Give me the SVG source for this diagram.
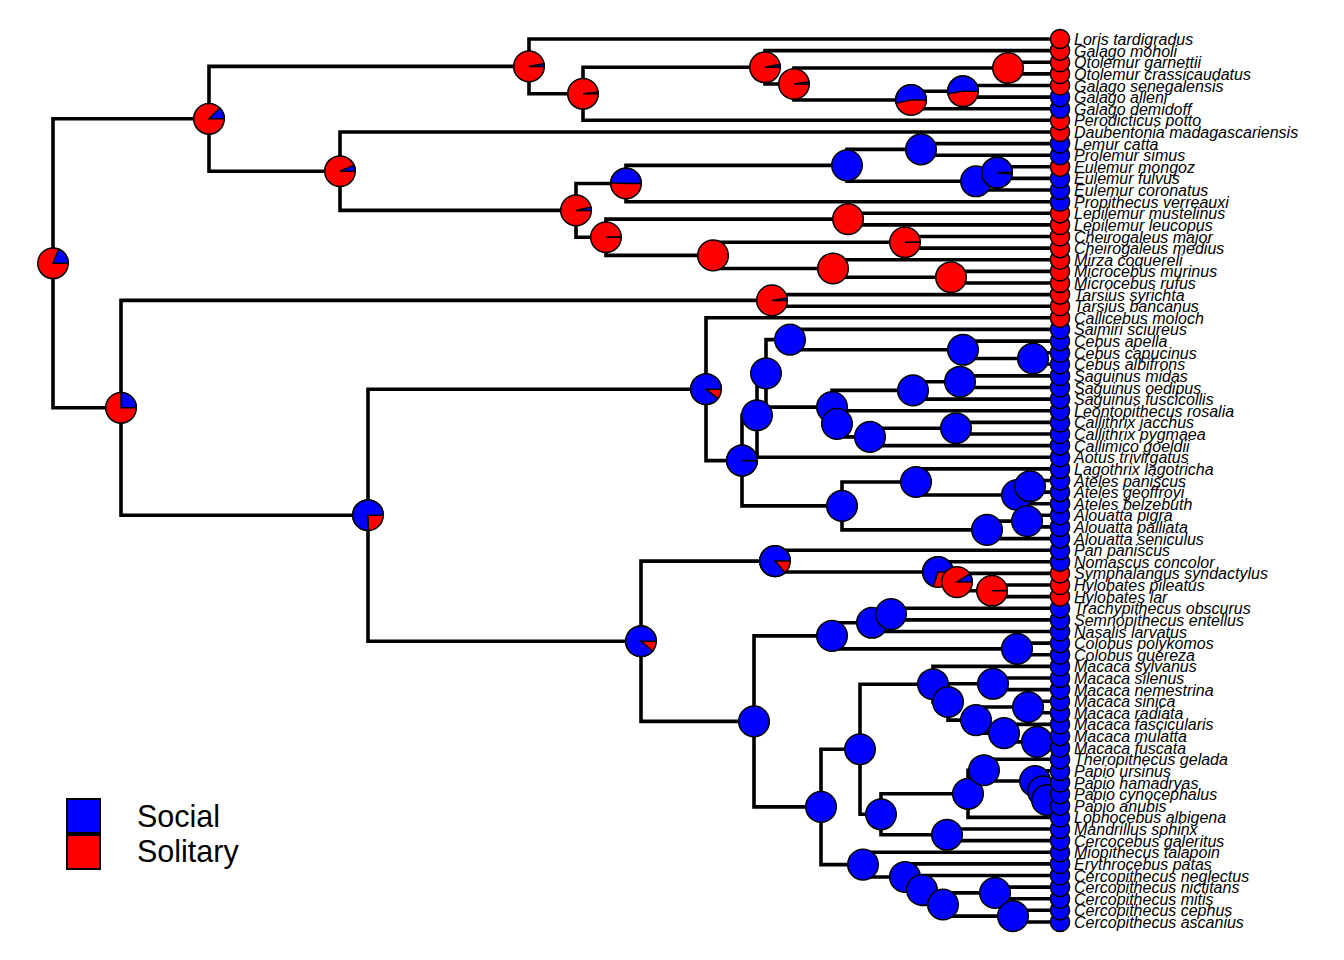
<svg xmlns="http://www.w3.org/2000/svg" width="1344" height="960" viewBox="0 0 1344 960">
<style>
.e{fill:none;stroke:#000;stroke-width:3.6;stroke-linejoin:miter;stroke-linecap:square}
.B{fill:#0000ff;stroke:#000;stroke-width:1.5}
.R{fill:#ff0000;stroke:#000;stroke-width:1.5}
.t{font-family:"Liberation Sans",Arial,sans-serif;font-size:16px;font-style:italic;fill:#000}
.lg{font-family:"Liberation Sans",Arial,sans-serif;font-size:30.5px;fill:#000}
</style>
<rect width="1344" height="960" fill="#fff"/>
<g id="connectors">
<path class="e" d="M209 118.8 H53 V407.8 H121"/>
<path class="e" d="M529 66.4 H209 V171.2 H340"/>
<path class="e" d="M1060 39 H529 V93.8 H583"/>
<path class="e" d="M765 67.3 H583 V120.3 H1060"/>
<path class="e" d="M1060 50.6 H765 V84 H794"/>
<path class="e" d="M1008 68.05 H794 V100 H911"/>
<path class="e" d="M1060 62.2 H1008 V73.9 H1060"/>
<path class="e" d="M963 91.3 H911 V108.7 H1060"/>
<path class="e" d="M1060 85.5 H963 V97.1 H1060"/>
<path class="e" d="M1060 132 H340 V210.4 H576"/>
<path class="e" d="M626 183.5 H576 V237.25 H606"/>
<path class="e" d="M847 165.35 H626 V201.7 H1060"/>
<path class="e" d="M921 149.4 H847 V181.3 H976"/>
<path class="e" d="M1060 143.6 H921 V155.2 H1060"/>
<path class="e" d="M997 172.6 H976 V190 H1060"/>
<path class="e" d="M1060 166.8 H997 V178.4 H1060"/>
<path class="e" d="M848 219.1 H606 V255.4 H713"/>
<path class="e" d="M1060 213.3 H848 V224.9 H1060"/>
<path class="e" d="M905 242.3 H713 V268.45 H833"/>
<path class="e" d="M1060 236.5 H905 V248.1 H1060"/>
<path class="e" d="M1060 259.7 H833 V277.2 H951"/>
<path class="e" d="M1060 271.4 H951 V283 H1060"/>
<path class="e" d="M772 300.4 H121 V515.2 H368"/>
<path class="e" d="M1060 294.6 H772 V306.2 H1060"/>
<path class="e" d="M706 389.2 H368 V641.25 H641"/>
<path class="e" d="M1060 317.8 H706 V460.6 H742"/>
<path class="e" d="M757 415.3 H742 V505.9 H842"/>
<path class="e" d="M766 373.35 H757 V457.2 H1060"/>
<path class="e" d="M790 339.6 H766 V407.1 H832"/>
<path class="e" d="M1060 329.4 H790 V349.8 H963"/>
<path class="e" d="M1060 341.1 H963 V358.5 H1033"/>
<path class="e" d="M1060 352.7 H1033 V364.3 H1060"/>
<path class="e" d="M913 390.4 H832 V423.85 H837"/>
<path class="e" d="M960 381.7 H913 V399.1 H1060"/>
<path class="e" d="M1060 375.9 H960 V387.5 H1060"/>
<path class="e" d="M1060 410.8 H837 V436.9 H870"/>
<path class="e" d="M956 428.2 H870 V445.6 H1060"/>
<path class="e" d="M1060 422.4 H956 V434 H1060"/>
<path class="e" d="M916 481.95 H842 V529.85 H987"/>
<path class="e" d="M1060 468.9 H916 V495 H1017"/>
<path class="e" d="M1030 486.3 H1017 V503.7 H1060"/>
<path class="e" d="M1060 480.5 H1030 V492.1 H1060"/>
<path class="e" d="M1027 521.1 H987 V538.6 H1060"/>
<path class="e" d="M1060 515.3 H1027 V526.9 H1060"/>
<path class="e" d="M775 561.1 H641 V721.4 H754"/>
<path class="e" d="M1060 550.2 H775 V571.95 H938"/>
<path class="e" d="M1060 561.8 H938 V582.1 H957"/>
<path class="e" d="M1060 573.4 H957 V590.8 H992"/>
<path class="e" d="M1060 585 H992 V596.6 H1060"/>
<path class="e" d="M832 635.85 H754 V806.9 H821"/>
<path class="e" d="M872 622.8 H832 V648.9 H1017"/>
<path class="e" d="M891 614.1 H872 V631.5 H1060"/>
<path class="e" d="M1060 608.3 H891 V619.9 H1060"/>
<path class="e" d="M1060 643.1 H1017 V654.7 H1060"/>
<path class="e" d="M860 749.25 H821 V864.6 H863"/>
<path class="e" d="M933 684.2 H860 V814.3 H881"/>
<path class="e" d="M1060 666.4 H933 V701.95 H948"/>
<path class="e" d="M993 683.8 H948 V720.1 H976"/>
<path class="e" d="M1060 678 H993 V689.6 H1060"/>
<path class="e" d="M1028 707 H976 V733.15 H1004"/>
<path class="e" d="M1060 701.2 H1028 V712.8 H1060"/>
<path class="e" d="M1060 724.4 H1004 V741.9 H1037"/>
<path class="e" d="M1060 736.1 H1037 V747.7 H1060"/>
<path class="e" d="M968 793.8 H881 V834.8 H947"/>
<path class="e" d="M984 770.2 H968 V817.4 H1060"/>
<path class="e" d="M1060 759.3 H984 V781.05 H1035"/>
<path class="e" d="M1060 770.9 H1035 V791.2 H1043"/>
<path class="e" d="M1060 782.5 H1043 V799.95 H1047"/>
<path class="e" d="M1060 794.1 H1047 V805.8 H1060"/>
<path class="e" d="M1060 829 H947 V840.6 H1060"/>
<path class="e" d="M1060 852.2 H863 V876.95 H905"/>
<path class="e" d="M1060 863.9 H905 V890 H922"/>
<path class="e" d="M1060 875.5 H922 V904.5 H943"/>
<path class="e" d="M995 892.9 H943 V916.15 H1013"/>
<path class="e" d="M1060 887.1 H995 V898.7 H1060"/>
<path class="e" d="M1060 910.3 H1013 V922 H1060"/>
</g>
<g id="nodes">
<g id="n-root"><circle class="R" cx="53" cy="263.3" r="15.3"/><path class="B" d="M53 263.3 L68.3 263.3 A15.3 15.3 0 0 0 58.63 249.07 Z"/></g>
<g id="n-primates-strep"><circle class="R" cx="209" cy="118.8" r="15.3"/><path class="B" d="M209 118.8 L224.3 118.8 A15.3 15.3 0 0 0 219.82 107.98 Z"/></g>
<g id="n-lorisoids"><circle class="R" cx="529" cy="66.4" r="15.3"/><path class="B" d="M529 66.4 L544.3 66.4 A15.3 15.3 0 0 0 544.03 63.53 Z"/></g>
<g id="n-583"><circle class="R" cx="583" cy="93.8" r="15.3"/><path class="B" d="M583 93.8 L598.3 93.8 A15.3 15.3 0 0 0 598.21 92.17 Z"/></g>
<g id="n-765"><circle class="R" cx="765" cy="67.3" r="15.3"/><path class="B" d="M765 67.3 L780.3 67.3 A15.3 15.3 0 0 0 780.03 64.43 Z"/></g>
<g id="n-794"><circle class="R" cx="794" cy="84" r="15.3"/><path class="B" d="M794 84 L809.3 84 A15.3 15.3 0 0 0 809.15 81.87 Z"/></g>
<g id="n-otolemur"><circle class="R" cx="1008" cy="68.05" r="15.3"/></g>
<g id="n-911"><circle class="R" cx="911" cy="100" r="15.3"/><path class="B" d="M911 100 L926.3 100 A15.3 15.3 0 1 0 896.05 103.23 Z"/></g>
<g id="n-963a"><circle class="R" cx="963" cy="91.3" r="15.3"/><path class="B" d="M963 91.3 L978.3 91.3 A15.3 15.3 0 1 0 947.9 93.8 Z"/></g>
<g id="n-lemuriformes"><circle class="R" cx="340" cy="171.2" r="15.3"/><path class="B" d="M340 171.2 L355.3 171.2 A15.3 15.3 0 0 0 354.04 165.12 Z"/></g>
<g id="n-576"><circle class="R" cx="576" cy="210.4" r="15.3"/><path class="B" d="M576 210.4 L591.3 210.4 A15.3 15.3 0 0 0 590.93 207.06 Z"/></g>
<g id="n-626"><circle class="R" cx="626" cy="183.5" r="15.3"/><path class="B" d="M626 183.5 L641.3 183.5 A15.3 15.3 0 0 0 610.72 182.73 Z"/></g>
<g id="n-847"><circle class="B" cx="847" cy="165.35" r="15.3"/></g>
<g id="n-921"><circle class="B" cx="921" cy="149.4" r="15.3"/></g>
<g id="n-976a"><circle class="B" cx="976" cy="181.3" r="15.3"/></g>
<g id="n-997"><circle class="R" cx="997" cy="172.6" r="15.3"/><path class="B" d="M997 172.6 L1012.3 172.6 A15.3 15.3 0 1 0 1012.23 174.04 Z"/></g>
<g id="n-606"><circle class="R" cx="606" cy="237.25" r="15.3"/><path class="B" d="M606 237.25 L621.3 237.25 A15.3 15.3 0 0 0 621.3 236.87 Z"/></g>
<g id="n-848"><circle class="R" cx="848" cy="219.1" r="15.3"/></g>
<g id="n-713"><circle class="R" cx="713" cy="255.4" r="15.3"/></g>
<g id="n-905a"><circle class="R" cx="905" cy="242.3" r="15.3"/><path class="B" d="M905 242.3 L920.3 242.3 A15.3 15.3 0 0 0 920.3 241.92 Z"/></g>
<g id="n-833"><circle class="R" cx="833" cy="268.45" r="15.3"/></g>
<g id="n-951"><circle class="R" cx="951" cy="277.2" r="15.3"/></g>
<g id="n-haplorhini"><circle class="R" cx="121" cy="407.8" r="15.3"/><path class="B" d="M121 407.8 L136.3 407.8 A15.3 15.3 0 0 0 121 392.5 Z"/></g>
<g id="n-tarsius"><circle class="R" cx="772" cy="300.4" r="15.3"/><path class="B" d="M772 300.4 L787.3 300.4 A15.3 15.3 0 0 0 787.11 298.01 Z"/></g>
<g id="n-anthropoidea"><circle class="R" cx="368" cy="515.2" r="15.3"/><path class="B" d="M368 515.2 L383.3 515.2 A15.3 15.3 0 1 0 368.48 530.49 Z"/></g>
<g id="n-platyrrhini"><circle class="R" cx="706" cy="389.2" r="15.3"/><path class="B" d="M706 389.2 L721.3 389.2 A15.3 15.3 0 1 0 718.09 398.58 Z"/></g>
<g id="n-742"><circle class="R" cx="742" cy="460.6" r="15.3"/><path class="B" d="M742 460.6 L757.3 460.6 A15.3 15.3 0 1 0 757.29 461.08 Z"/></g>
<g id="n-757"><circle class="B" cx="757" cy="415.3" r="15.3"/></g>
<g id="n-766"><circle class="B" cx="766" cy="373.35" r="15.3"/></g>
<g id="n-790"><circle class="B" cx="790" cy="339.6" r="15.3"/></g>
<g id="n-963b"><circle class="B" cx="963" cy="349.8" r="15.3"/></g>
<g id="n-1033"><circle class="B" cx="1033" cy="358.5" r="15.3"/></g>
<g id="n-832a"><circle class="B" cx="832" cy="407.1" r="15.3"/></g>
<g id="n-913"><circle class="B" cx="913" cy="390.4" r="15.3"/></g>
<g id="n-960"><circle class="B" cx="960" cy="381.7" r="15.3"/></g>
<g id="n-837"><circle class="B" cx="837" cy="423.85" r="15.3"/></g>
<g id="n-870"><circle class="B" cx="870" cy="436.9" r="15.3"/></g>
<g id="n-956"><circle class="B" cx="956" cy="428.2" r="15.3"/></g>
<g id="n-842"><circle class="B" cx="842" cy="505.9" r="15.3"/></g>
<g id="n-916"><circle class="B" cx="916" cy="481.95" r="15.3"/></g>
<g id="n-1017a"><circle class="B" cx="1017" cy="495" r="15.3"/></g>
<g id="n-1030"><circle class="B" cx="1030" cy="486.3" r="15.3"/></g>
<g id="n-987"><circle class="B" cx="987" cy="529.85" r="15.3"/></g>
<g id="n-1027"><circle class="B" cx="1027" cy="521.1" r="15.3"/></g>
<g id="n-catarrhini"><circle class="R" cx="641" cy="641.25" r="15.3"/><path class="B" d="M641 641.25 L656.3 641.25 A15.3 15.3 0 1 0 652.79 651 Z"/></g>
<g id="n-hominoidea"><circle class="R" cx="775" cy="561.1" r="15.3"/><path class="B" d="M775 561.1 L790.3 561.1 A15.3 15.3 0 1 0 785.12 572.58 Z"/></g>
<g id="n-938"><circle class="R" cx="938" cy="571.95" r="15.3"/><path class="B" d="M938 571.95 L953.3 571.95 A15.3 15.3 0 1 0 933.27 586.5 Z"/></g>
<g id="n-957"><circle class="R" cx="957" cy="582.1" r="15.3"/><path class="B" d="M957 582.1 L972.3 582.1 A15.3 15.3 0 0 0 969.92 573.9 Z"/></g>
<g id="n-992"><circle class="R" cx="992" cy="590.8" r="15.3"/><path class="B" d="M992 590.8 L1007.3 590.8 A15.3 15.3 0 0 0 1007.3 590.42 Z"/></g>
<g id="n-cercopithecoidea"><circle class="B" cx="754" cy="721.4" r="15.3"/></g>
<g id="n-colobinae"><circle class="B" cx="832" cy="635.85" r="15.3"/></g>
<g id="n-872"><circle class="B" cx="872" cy="622.8" r="15.3"/></g>
<g id="n-891"><circle class="B" cx="891" cy="614.1" r="15.3"/></g>
<g id="n-1017b"><circle class="B" cx="1017" cy="648.9" r="15.3"/></g>
<g id="n-cercopithecinae"><circle class="B" cx="821" cy="806.9" r="15.3"/></g>
<g id="n-papionini"><circle class="B" cx="860" cy="749.25" r="15.3"/></g>
<g id="n-macaca"><circle class="B" cx="933" cy="684.2" r="15.3"/></g>
<g id="n-948"><circle class="B" cx="948" cy="701.95" r="15.3"/></g>
<g id="n-993"><circle class="B" cx="993" cy="683.8" r="15.3"/></g>
<g id="n-976b"><circle class="B" cx="976" cy="720.1" r="15.3"/></g>
<g id="n-1028"><circle class="B" cx="1028" cy="707" r="15.3"/></g>
<g id="n-1004"><circle class="B" cx="1004" cy="733.15" r="15.3"/></g>
<g id="n-1037"><circle class="B" cx="1037" cy="741.9" r="15.3"/></g>
<g id="n-881"><circle class="B" cx="881" cy="814.3" r="15.3"/></g>
<g id="n-968"><circle class="B" cx="968" cy="793.8" r="15.3"/></g>
<g id="n-984"><circle class="B" cx="984" cy="770.2" r="15.3"/></g>
<g id="n-1035"><circle class="B" cx="1035" cy="781.05" r="15.3"/></g>
<g id="n-1043"><circle class="B" cx="1043" cy="791.2" r="15.3"/></g>
<g id="n-1047"><circle class="B" cx="1047" cy="799.95" r="15.3"/></g>
<g id="n-947"><circle class="B" cx="947" cy="834.8" r="15.3"/></g>
<g id="n-cercopithecini"><circle class="B" cx="863" cy="864.6" r="15.3"/></g>
<g id="n-905b"><circle class="B" cx="905" cy="876.95" r="15.3"/></g>
<g id="n-922"><circle class="B" cx="922" cy="890" r="15.3"/></g>
<g id="n-943"><circle class="B" cx="943" cy="904.5" r="15.3"/></g>
<g id="n-995"><circle class="B" cx="995" cy="892.9" r="15.3"/></g>
<g id="n-1013"><circle class="B" cx="1013" cy="916.15" r="15.3"/></g>
</g>
<g id="tips">
<g id="tip77"><circle class="B" cx="1060" cy="922" r="9.6"/><text class="t" x="1074" y="928">Cercopithecus ascanius</text></g>
<g id="tip76"><circle class="B" cx="1060" cy="910.3" r="9.6"/><text class="t" x="1074" y="916.3">Cercopithecus cephus</text></g>
<g id="tip75"><circle class="B" cx="1060" cy="898.7" r="9.6"/><text class="t" x="1074" y="904.7">Cercopithecus mitis</text></g>
<g id="tip74"><circle class="B" cx="1060" cy="887.1" r="9.6"/><text class="t" x="1074" y="893.1">Cercopithecus nictitans</text></g>
<g id="tip73"><circle class="B" cx="1060" cy="875.5" r="9.6"/><text class="t" x="1074" y="881.5">Cercopithecus neglectus</text></g>
<g id="tip72"><circle class="B" cx="1060" cy="863.9" r="9.6"/><text class="t" x="1074" y="869.9">Erythrocebus patas</text></g>
<g id="tip71"><circle class="B" cx="1060" cy="852.2" r="9.6"/><text class="t" x="1074" y="858.2">Miopithecus talapoin</text></g>
<g id="tip70"><circle class="B" cx="1060" cy="840.6" r="9.6"/><text class="t" x="1074" y="846.6">Cercocebus galeritus</text></g>
<g id="tip69"><circle class="B" cx="1060" cy="829" r="9.6"/><text class="t" x="1074" y="835">Mandrillus sphinx</text></g>
<g id="tip68"><circle class="B" cx="1060" cy="817.4" r="9.6"/><text class="t" x="1074" y="823.4">Lophocebus albigena</text></g>
<g id="tip67"><circle class="B" cx="1060" cy="805.8" r="9.6"/><text class="t" x="1074" y="811.8">Papio anubis</text></g>
<g id="tip66"><circle class="B" cx="1060" cy="794.1" r="9.6"/><text class="t" x="1074" y="800.1">Papio cynocephalus</text></g>
<g id="tip65"><circle class="B" cx="1060" cy="782.5" r="9.6"/><text class="t" x="1074" y="788.5">Papio hamadryas</text></g>
<g id="tip64"><circle class="B" cx="1060" cy="770.9" r="9.6"/><text class="t" x="1074" y="776.9">Papio ursinus</text></g>
<g id="tip63"><circle class="B" cx="1060" cy="759.3" r="9.6"/><text class="t" x="1074" y="765.3">Theropithecus gelada</text></g>
<g id="tip62"><circle class="B" cx="1060" cy="747.7" r="9.6"/><text class="t" x="1074" y="753.7">Macaca fuscata</text></g>
<g id="tip61"><circle class="B" cx="1060" cy="736.1" r="9.6"/><text class="t" x="1074" y="742.1">Macaca mulatta</text></g>
<g id="tip60"><circle class="B" cx="1060" cy="724.4" r="9.6"/><text class="t" x="1074" y="730.4">Macaca fascicularis</text></g>
<g id="tip59"><circle class="B" cx="1060" cy="712.8" r="9.6"/><text class="t" x="1074" y="718.8">Macaca radiata</text></g>
<g id="tip58"><circle class="B" cx="1060" cy="701.2" r="9.6"/><text class="t" x="1074" y="707.2">Macaca sinica</text></g>
<g id="tip57"><circle class="B" cx="1060" cy="689.6" r="9.6"/><text class="t" x="1074" y="695.6">Macaca nemestrina</text></g>
<g id="tip56"><circle class="B" cx="1060" cy="678" r="9.6"/><text class="t" x="1074" y="684">Macaca silenus</text></g>
<g id="tip55"><circle class="B" cx="1060" cy="666.4" r="9.6"/><text class="t" x="1074" y="672.4">Macaca sylvanus</text></g>
<g id="tip54"><circle class="B" cx="1060" cy="654.7" r="9.6"/><text class="t" x="1074" y="660.7">Colobus guereza</text></g>
<g id="tip53"><circle class="B" cx="1060" cy="643.1" r="9.6"/><text class="t" x="1074" y="649.1">Colobus polykomos</text></g>
<g id="tip52"><circle class="B" cx="1060" cy="631.5" r="9.6"/><text class="t" x="1074" y="637.5">Nasalis larvatus</text></g>
<g id="tip51"><circle class="B" cx="1060" cy="619.9" r="9.6"/><text class="t" x="1074" y="625.9">Semnopithecus entellus</text></g>
<g id="tip50"><circle class="B" cx="1060" cy="608.3" r="9.6"/><text class="t" x="1074" y="614.3">Trachypithecus obscurus</text></g>
<g id="tip49"><circle class="R" cx="1060" cy="596.6" r="9.6"/><text class="t" x="1074" y="602.6">Hylobates lar</text></g>
<g id="tip48"><circle class="R" cx="1060" cy="585" r="9.6"/><text class="t" x="1074" y="591">Hylobates pileatus</text></g>
<g id="tip47"><circle class="R" cx="1060" cy="573.4" r="9.6"/><text class="t" x="1074" y="579.4">Symphalangus syndactylus</text></g>
<g id="tip46"><circle class="B" cx="1060" cy="561.8" r="9.6"/><text class="t" x="1074" y="567.8">Nomascus concolor</text></g>
<g id="tip45"><circle class="B" cx="1060" cy="550.2" r="9.6"/><text class="t" x="1074" y="556.2">Pan paniscus</text></g>
<g id="tip44"><circle class="B" cx="1060" cy="538.6" r="9.6"/><text class="t" x="1074" y="544.6">Alouatta seniculus</text></g>
<g id="tip43"><circle class="B" cx="1060" cy="526.9" r="9.6"/><text class="t" x="1074" y="532.9">Alouatta palliata</text></g>
<g id="tip42"><circle class="B" cx="1060" cy="515.3" r="9.6"/><text class="t" x="1074" y="521.3">Alouatta pigra</text></g>
<g id="tip41"><circle class="B" cx="1060" cy="503.7" r="9.6"/><text class="t" x="1074" y="509.7">Ateles belzebuth</text></g>
<g id="tip40"><circle class="B" cx="1060" cy="492.1" r="9.6"/><text class="t" x="1074" y="498.1">Ateles geoffroyi</text></g>
<g id="tip39"><circle class="B" cx="1060" cy="480.5" r="9.6"/><text class="t" x="1074" y="486.5">Ateles paniscus</text></g>
<g id="tip38"><circle class="B" cx="1060" cy="468.9" r="9.6"/><text class="t" x="1074" y="474.9">Lagothrix lagotricha</text></g>
<g id="tip37"><circle class="B" cx="1060" cy="457.2" r="9.6"/><text class="t" x="1074" y="463.2">Aotus trivirgatus</text></g>
<g id="tip36"><circle class="B" cx="1060" cy="445.6" r="9.6"/><text class="t" x="1074" y="451.6">Callimico goeldii</text></g>
<g id="tip35"><circle class="B" cx="1060" cy="434" r="9.6"/><text class="t" x="1074" y="440">Callithrix pygmaea</text></g>
<g id="tip34"><circle class="B" cx="1060" cy="422.4" r="9.6"/><text class="t" x="1074" y="428.4">Callithrix jacchus</text></g>
<g id="tip33"><circle class="B" cx="1060" cy="410.8" r="9.6"/><text class="t" x="1074" y="416.8">Leontopithecus rosalia</text></g>
<g id="tip32"><circle class="B" cx="1060" cy="399.1" r="9.6"/><text class="t" x="1074" y="405.1">Saguinus fuscicollis</text></g>
<g id="tip31"><circle class="B" cx="1060" cy="387.5" r="9.6"/><text class="t" x="1074" y="393.5">Saguinus oedipus</text></g>
<g id="tip30"><circle class="B" cx="1060" cy="375.9" r="9.6"/><text class="t" x="1074" y="381.9">Saguinus midas</text></g>
<g id="tip29"><circle class="B" cx="1060" cy="364.3" r="9.6"/><text class="t" x="1074" y="370.3">Cebus albifrons</text></g>
<g id="tip28"><circle class="B" cx="1060" cy="352.7" r="9.6"/><text class="t" x="1074" y="358.7">Cebus capucinus</text></g>
<g id="tip27"><circle class="B" cx="1060" cy="341.1" r="9.6"/><text class="t" x="1074" y="347.1">Cebus apella</text></g>
<g id="tip26"><circle class="B" cx="1060" cy="329.4" r="9.6"/><text class="t" x="1074" y="335.4">Saimiri sciureus</text></g>
<g id="tip25"><circle class="R" cx="1060" cy="317.8" r="9.6"/><text class="t" x="1074" y="323.8">Callicebus moloch</text></g>
<g id="tip24"><circle class="R" cx="1060" cy="306.2" r="9.6"/><text class="t" x="1074" y="312.2">Tarsius bancanus</text></g>
<g id="tip23"><circle class="R" cx="1060" cy="294.6" r="9.6"/><text class="t" x="1074" y="300.6">Tarsius syrichta</text></g>
<g id="tip22"><circle class="R" cx="1060" cy="283" r="9.6"/><text class="t" x="1074" y="289">Microcebus rufus</text></g>
<g id="tip21"><circle class="R" cx="1060" cy="271.4" r="9.6"/><text class="t" x="1074" y="277.4">Microcebus murinus</text></g>
<g id="tip20"><circle class="R" cx="1060" cy="259.7" r="9.6"/><text class="t" x="1074" y="265.7">Mirza coquereli</text></g>
<g id="tip19"><circle class="R" cx="1060" cy="248.1" r="9.6"/><text class="t" x="1074" y="254.1">Cheirogaleus medius</text></g>
<g id="tip18"><circle class="R" cx="1060" cy="236.5" r="9.6"/><text class="t" x="1074" y="242.5">Cheirogaleus major</text></g>
<g id="tip17"><circle class="R" cx="1060" cy="224.9" r="9.6"/><text class="t" x="1074" y="230.9">Lepilemur leucopus</text></g>
<g id="tip16"><circle class="R" cx="1060" cy="213.3" r="9.6"/><text class="t" x="1074" y="219.3">Lepilemur mustelinus</text></g>
<g id="tip15"><circle class="B" cx="1060" cy="201.7" r="9.6"/><text class="t" x="1074" y="207.7">Propithecus verreauxi</text></g>
<g id="tip14"><circle class="B" cx="1060" cy="190" r="9.6"/><text class="t" x="1074" y="196">Eulemur coronatus</text></g>
<g id="tip13"><circle class="B" cx="1060" cy="178.4" r="9.6"/><text class="t" x="1074" y="184.4">Eulemur fulvus</text></g>
<g id="tip12"><circle class="R" cx="1060" cy="166.8" r="9.6"/><text class="t" x="1074" y="172.8">Eulemur mongoz</text></g>
<g id="tip11"><circle class="B" cx="1060" cy="155.2" r="9.6"/><text class="t" x="1074" y="161.2">Prolemur simus</text></g>
<g id="tip10"><circle class="B" cx="1060" cy="143.6" r="9.6"/><text class="t" x="1074" y="149.6">Lemur catta</text></g>
<g id="tip9"><circle class="R" cx="1060" cy="132" r="9.6"/><text class="t" x="1074" y="138">Daubentonia madagascariensis</text></g>
<g id="tip8"><circle class="R" cx="1060" cy="120.3" r="9.6"/><text class="t" x="1074" y="126.3">Perodicticus potto</text></g>
<g id="tip7"><circle class="B" cx="1060" cy="108.7" r="9.6"/><text class="t" x="1074" y="114.7">Galago demidoff</text></g>
<g id="tip6"><circle class="B" cx="1060" cy="97.1" r="9.6"/><text class="t" x="1074" y="103.1">Galago alleni</text></g>
<g id="tip5"><circle class="R" cx="1060" cy="85.5" r="9.6"/><text class="t" x="1074" y="91.5">Galago senegalensis</text></g>
<g id="tip4"><circle class="R" cx="1060" cy="73.9" r="9.6"/><text class="t" x="1074" y="79.9">Otolemur crassicaudatus</text></g>
<g id="tip3"><circle class="R" cx="1060" cy="62.2" r="9.6"/><text class="t" x="1074" y="68.2">Otolemur garnettii</text></g>
<g id="tip2"><circle class="R" cx="1060" cy="50.6" r="9.6"/><text class="t" x="1074" y="56.6">Galago moholi</text></g>
<g id="tip1"><circle class="R" cx="1060" cy="39" r="9.6"/><text class="t" x="1074" y="45">Loris tardigradus</text></g>
</g>
<g id="legend">
<rect x="67" y="799" width="33" height="34" fill="#0000ff" stroke="#000" stroke-width="2"/>
<rect x="67" y="835" width="33" height="34" fill="#ff0000" stroke="#000" stroke-width="2"/>
<text class="lg" x="137" y="827">Social</text>
<text class="lg" x="137" y="862">Solitary</text>
</g>
</svg>
